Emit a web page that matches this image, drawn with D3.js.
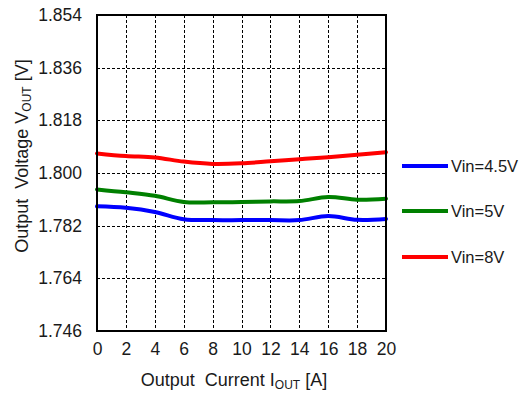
<!DOCTYPE html>
<html>
<head>
<meta charset="utf-8">
<script src="https://cdn.jsdelivr.net/npm/d3@7"></script>
<style>
  html, body { margin: 0; padding: 0; background: #fff; }
  svg { display: block; font-family: Arial, "Liberation Sans", sans-serif; }
</style>
</head>
<body>
<svg id="chart" width="526" height="394"></svg>
<script>
// Load current (A) at each measurement point
const currents = [0, 2, 4, 6, 8, 10, 12, 14, 16, 18, 20];
// Output voltage (V) for each input voltage
const vin45 = [1.7886, 1.7881, 1.7867, 1.7842, 1.7839, 1.7839, 1.7839, 1.7839, 1.7853, 1.7840, 1.7843];
const vin5  = [1.7944, 1.7934, 1.7922, 1.7901, 1.7900, 1.7901, 1.7903, 1.7904, 1.7918, 1.7909, 1.7912];
const vin8  = [1.8067, 1.8058, 1.8053, 1.8039, 1.8031, 1.8033, 1.8040, 1.8047, 1.8054, 1.8062, 1.8071];
const seriesNames = ["Vin=4.5V", "Vin=5V", "Vin=8V"];
const seriesColors = ["#0000ff", "#008000", "#ff0000"];
const xTicks = [0, 2, 4, 6, 8, 10, 12, 14, 16, 18, 20];
const yTicks = [1.746, 1.764, 1.782, 1.800, 1.818, 1.836, 1.854];

const svg = d3.select("#chart");
const plotL = 97, plotR = 386, plotT = 15, plotB = 331;
const textColor = "#1a1a1a";

const x = d3.scaleLinear().domain([0, 20]).range([plotL, plotR]);
const y = d3.scaleLinear().domain([1.746, 1.854]).range([plotB, plotT]);

// dashed grid
const grid = svg.append("g").attr("stroke", "#000").attr("stroke-width", 1)
  .attr("stroke-dasharray", "3,2").attr("shape-rendering", "crispEdges");
grid.selectAll("line.v").data(xTicks.slice(1, -1)).join("line").attr("class", "v")
  .attr("x1", d => Math.round(x(d)) + 0.5).attr("x2", d => Math.round(x(d)) + 0.5)
  .attr("y1", plotT).attr("y2", plotB);
grid.selectAll("line.h").data(yTicks.slice(1, -1)).join("line").attr("class", "h")
  .attr("y1", d => Math.round(y(d)) + 0.5).attr("y2", d => Math.round(y(d)) + 0.5)
  .attr("x1", plotL).attr("x2", plotR);

// tick labels via d3 axes (no tick marks, no domain)
const xAxis = d3.axisBottom(x).tickValues(xTicks).tickSize(0).tickPadding(12)
  .tickFormat(d3.format("d"));
svg.append("g").attr("transform", `translate(0,${plotB})`).call(xAxis)
  .call(g => g.select(".domain").remove())
  .selectAll("text").attr("font-size", 17.5).attr("fill", textColor)
  .attr("font-family", "Arial, 'Liberation Sans', sans-serif");

const yAxis = d3.axisLeft(y).tickValues(yTicks).tickSize(0).tickPadding(15)
  .tickFormat(d3.format(".3f"));
svg.append("g").attr("transform", `translate(${plotL},0)`).call(yAxis)
  .call(g => g.select(".domain").remove())
  .selectAll("text").attr("font-size", 17.5).attr("fill", textColor)
  .attr("font-family", "Arial, 'Liberation Sans', sans-serif");

// data lines
const line = d3.line()
  .x((d, i) => x(currents[i]))
  .y(d => y(d))
  .curve(d3.curveCatmullRom.alpha(0.5));

const allSeries = [vin45, vin5, vin8];
svg.append("g").selectAll("path").data(allSeries).join("path")
  .attr("d", d => line(d))
  .attr("fill", "none")
  .attr("stroke", (d, i) => seriesColors[i])
  .attr("stroke-width", 4)
  .attr("stroke-linecap", "round");

// plot frame
svg.append("rect").attr("x", plotL).attr("y", plotT)
  .attr("width", plotR - plotL).attr("height", plotB - plotT)
  .attr("fill", "none").attr("stroke", "#000").attr("stroke-width", 2);

// legend
const legendY = [166, 211, 257];
const lg = svg.append("g");
seriesNames.forEach((name, i) => {
  lg.append("line").attr("x1", 402).attr("x2", 448)
    .attr("y1", legendY[i]).attr("y2", legendY[i])
    .attr("stroke", seriesColors[i]).attr("stroke-width", 4);
  lg.append("text").attr("x", 451).attr("y", legendY[i] + 6)
    .attr("font-size", 16.5).attr("fill", textColor).text(name);
});

// axis titles
const xt = svg.append("text").attr("x", 234).attr("y", 386)
  .attr("text-anchor", "middle").attr("font-size", 18).attr("fill", textColor)
  .attr("xml:space", "preserve");
xt.append("tspan").text("Output  Current I");
xt.append("tspan").attr("font-size", 12).attr("dy", 3).text("OUT");
xt.append("tspan").attr("dy", -3).text(" [A]");

const yt = svg.append("text").attr("transform", "translate(28,156) rotate(-90)")
  .attr("text-anchor", "middle").attr("font-size", 18).attr("fill", textColor)
  .attr("xml:space", "preserve");
yt.append("tspan").text("Output  Voltage V");
yt.append("tspan").attr("font-size", 12).attr("dy", 3).text("OUT");
yt.append("tspan").attr("dy", -3).text(" [V]");
</script>
</body>
</html>
